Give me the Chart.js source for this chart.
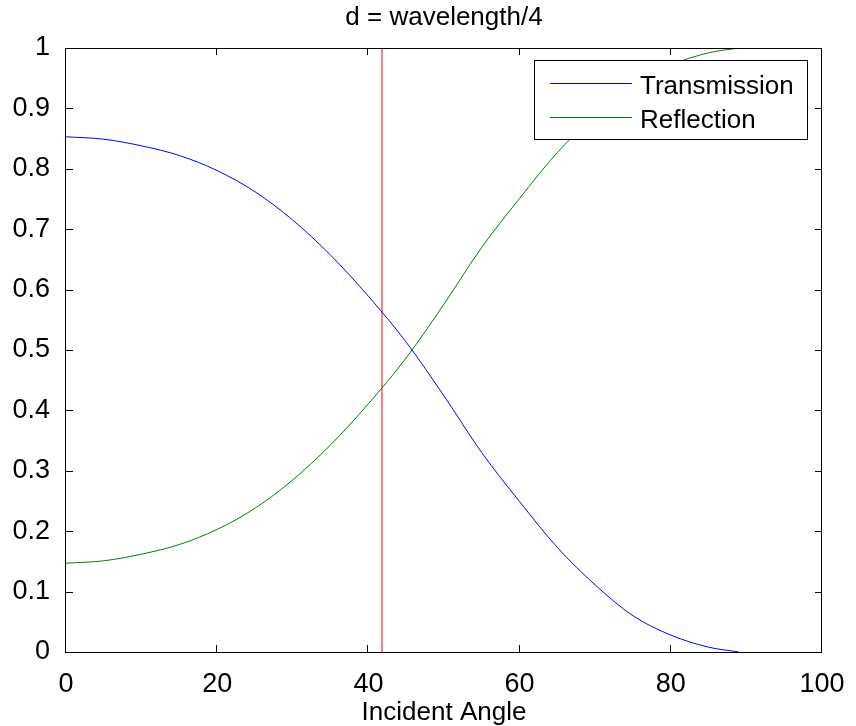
<!DOCTYPE html>
<html>
<head>
<meta charset="utf-8">
<script src="https://cdn.jsdelivr.net/npm/chart.js@4.4.0/dist/chart.umd.min.js"></script>
<style>
  html, body { margin: 0; padding: 0; background: #fff; }
</style>
</head>
<body>
<canvas id="chart" width="856" height="726"></canvas>
<script>
// values
const angles = [0, 5, 10, 15, 20, 25, 30, 35, 40, 45, 50, 55, 60, 65, 70, 75, 80, 85, 89];
const transmission = [0.853, 0.849, 0.838, 0.822, 0.797, 0.762, 0.715, 0.657, 0.589, 0.513, 0.424, 0.330, 0.249, 0.173, 0.111, 0.060, 0.028, 0.008, 0.0];
const reflection = [0.147, 0.151, 0.162, 0.178, 0.203, 0.238, 0.285, 0.343, 0.411, 0.487, 0.576, 0.670, 0.751, 0.827, 0.889, 0.940, 0.972, 0.992, 1.0];
const criticalAngle = [41.8, 41.8];
const criticalLevels = [0, 1];

const seriesNames = ["Transmission", "Reflection"];
const titleText = "d = wavelength/4";
const xTitleText = "Incident Angle";

const FONT = '"Liberation Sans", Arial, sans-serif';

// title centred over the axes, like matlab does
const titleOverAxes = {
  id: "titleOverAxes",
  afterLayout(chart) {
    const t = chart.titleBlock;
    if (!t) return;
    t.left = chart.chartArea.left;
    t.right = chart.chartArea.right;
    t.width = t.right - t.left;
  },
};

// black box round the axes + inward ticks on all four sides
const boxTicks = {
  id: "boxTicks",
  afterDatasetsDraw(chart) {
    const { ctx, chartArea: a, scales } = chart;
    const len = 7;
    ctx.save();
    ctx.strokeStyle = "#000";
    ctx.lineWidth = 1;
    ctx.beginPath();
    scales.x.ticks.forEach((t) => {
      const px = Math.round(scales.x.getPixelForValue(t.value)) - 0.5;
      ctx.moveTo(px, a.bottom);
      ctx.lineTo(px, a.bottom - len);
      ctx.moveTo(px, a.top);
      ctx.lineTo(px, a.top + len);
    });
    scales.y.ticks.forEach((t) => {
      const py = Math.round(scales.y.getPixelForValue(t.value)) + 0.5;
      ctx.moveTo(a.left, py);
      ctx.lineTo(a.left + len, py);
      ctx.moveTo(a.right, py);
      ctx.lineTo(a.right - len, py);
    });
    ctx.stroke();
    ctx.strokeRect(a.left - 0.5, a.top + 0.5, a.right - a.left, a.bottom - a.top);
    ctx.restore();
  },
};

// boxed legend in the top right corner of the axes
const boxLegend = {
  id: "boxLegend",
  afterDraw(chart) {
    const { ctx, chartArea: a } = chart;
    const w = 273, h = 79;
    const x0 = a.right - 288, y0 = a.top + 12;
    ctx.save();
    ctx.fillStyle = "#fff";
    ctx.fillRect(x0, y0, w, h);
    ctx.strokeStyle = "#000";
    ctx.lineWidth = 1;
    ctx.strokeRect(x0 + 0.5, y0 + 0.5, w, h);
    ctx.font = "26px " + FONT;
    ctx.textBaseline = "alphabetic";
    ctx.textAlign = "left";
    chart.data.datasets
      .filter((ds) => seriesNames.includes(ds.label))
      .forEach((ds, i) => {
        const y = y0 + 23.5 + i * 34;
        ctx.strokeStyle = ds.borderColor;
        ctx.beginPath();
        ctx.moveTo(x0 + 16, y);
        ctx.lineTo(x0 + 98, y);
        ctx.stroke();
        ctx.fillStyle = "#000";
        ctx.fillText(ds.label, x0 + 106, y + 10.5);
      });
    ctx.restore();
  },
};

function zeroPadding(scale) {
  scale.paddingLeft = 0;
  scale.paddingRight = 0;
  scale.paddingTop = 0;
  scale.paddingBottom = 0;
}

const ctx = document.getElementById("chart");

new Chart(ctx, {
  type: "line",
  data: {
    datasets: [
      {
        label: seriesNames[0],
        data: angles.map((x, i) => ({ x: x, y: transmission[i] })),
        borderColor: "#0000ff",
        borderWidth: 1,
        pointRadius: 0,
        cubicInterpolationMode: "monotone",
      },
      {
        label: seriesNames[1],
        data: angles.map((x, i) => ({ x: x, y: reflection[i] })),
        borderColor: "#008000",
        borderWidth: 1,
        pointRadius: 0,
        cubicInterpolationMode: "monotone",
      },
      {
        label: "critical",
        data: criticalAngle.map((x, i) => ({ x: x, y: criticalLevels[i] })),
        borderColor: "#ff0000",
        borderWidth: 1,
        pointRadius: 0,
      },
    ],
  },
  options: {
    responsive: false,
    animation: false,
    layout: {
      padding: { left: 0, right: 34, top: 0, bottom: 0 },
    },
    plugins: {
      legend: { display: false },
      tooltip: { enabled: false },
      title: {
        display: true,
        text: titleText,
        color: "#000",
        font: { family: FONT, size: 26, weight: "normal", lineHeight: 1 },
        padding: { top: 4.5, bottom: 17.5 },
      },
    },
    scales: {
      x: {
        type: "linear",
        min: 0,
        max: 100,
        grid: { display: false },
        border: { display: false },
        ticks: {
          stepSize: 20,
          color: "#000",
          padding: 8,
          maxRotation: 0,
          font: { family: FONT, size: 27 },
        },
        title: {
          display: true,
          text: xTitleText,
          color: "#000",
          font: { family: FONT, size: 26, lineHeight: 1 },
          padding: { top: 0, bottom: 0 },
        },
        afterFit(scale) {
          scale.height = 74;
          zeroPadding(scale);
        },
      },
      y: {
        min: 0,
        max: 1,
        grid: { display: false },
        border: { display: false },
        ticks: {
          stepSize: 0.1,
          color: "#000",
          padding: 8,
          font: { family: FONT, size: 27 },
          callback: (value) => String(Number(value.toFixed(1))),
        },
        afterFit(scale) {
          scale.width = 66;
          zeroPadding(scale);
        },
      },
    },
  },
  plugins: [titleOverAxes, boxTicks, boxLegend],
});
</script>
</body>
</html>
